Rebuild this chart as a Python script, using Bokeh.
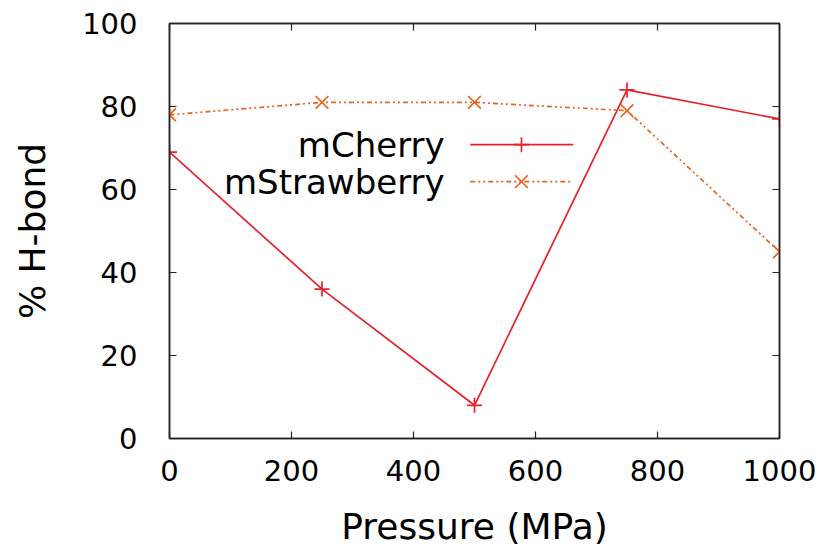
from bokeh.plotting import figure
from bokeh.models import Range1d, LinearAxis, FixedTicker, Label
from bokeh.embed import file_html
from bokeh.resources import INLINE

pressure = [0, 250, 500, 750, 1000]
mcherry = [69, 36, 8, 84, 77]
mstrawberry = [78, 81, 81, 79, 45]
x_ticks = [0, 200, 400, 600, 800, 1000]
y_ticks = [0, 20, 40, 60, 80, 100]

RED = "#e8202a"
ORANGE = "#e8641e"
FONT = "DejaVu Sans"
TICK_FS = "29px"
LABEL_FS = "36px"
LEG_FS = "34px"
DASH = "5 3 2 3 2 3"

p = figure(width=827, height=554, output_backend="svg", toolbar_location=None,
           x_range=Range1d(0, 1000), y_range=Range1d(0, 100),
           min_border_left=169, min_border_right=48, min_border_top=23, min_border_bottom=116)
p.xgrid.visible = False
p.ygrid.visible = False
p.outline_line_color = "#222222"
p.outline_line_width = 1.5

def style_axis(ax, ticks, labels=True):
    ax.ticker = FixedTicker(ticks=ticks)
    ax.major_tick_in = 7
    ax.major_tick_out = 0
    ax.minor_tick_in = 0
    ax.minor_tick_out = 0
    ax.axis_line_color = "#222222"
    ax.axis_line_width = 1.5
    ax.major_tick_line_color = "#222222"
    ax.major_tick_line_width = 1.2
    ax.major_label_text_font = FONT
    ax.major_label_text_font_size = TICK_FS
    ax.major_label_text_color = "black"
    ax.axis_label_text_font = FONT
    ax.axis_label_text_font_size = LABEL_FS
    ax.axis_label_text_font_style = "normal"
    ax.axis_label_text_color = "black"
    if not labels:
        ax.major_label_overrides = {t: "" for t in ticks}

style_axis(p.xaxis[0], x_ticks)
style_axis(p.yaxis[0], y_ticks)
p.xaxis[0].axis_label = "Pressure (MPa)"
p.yaxis[0].axis_label = "% H-bond"
p.xaxis[0].major_label_standoff = 21
p.xaxis[0].axis_label_standoff = 22
p.yaxis[0].major_label_standoff = 32
p.yaxis[0].axis_label_standoff = 26

top = LinearAxis()
style_axis(top, x_ticks, labels=False)
p.add_layout(top, "above")
right = LinearAxis()
style_axis(right, y_ticks, labels=False)
p.add_layout(right, "right")

# data
p.line(pressure, mcherry, line_color=RED, line_width=1.7)
p.scatter(pressure, mcherry, marker="cross", size=15, line_color=RED, line_width=1.7)
p.line(pressure, mstrawberry, line_color=ORANGE, line_width=1.7, line_dash=DASH)
p.scatter(pressure, mstrawberry, marker="x", size=18, line_color=ORANGE, line_width=1.7)

# legend (gnuplot style: label left, sample right), in data units
leg_text_x = 451
leg_line_x = [493, 662]
leg_mark_x = [577]
leg_y = [70.8, 61.9]
names = ["mCherry", "mStrawberry"]
for i, name in enumerate(names):
    p.add_layout(Label(x=leg_text_x, y=leg_y[i], text=name, text_align="right",
                       text_baseline="middle", text_font=FONT, text_font_size=LEG_FS,
                       text_color="black"))
p.line(leg_line_x, [leg_y[0]] * 2, line_color=RED, line_width=1.7)
p.scatter(leg_mark_x, [leg_y[0]], marker="cross", size=15, line_color=RED, line_width=1.7)
p.line(leg_line_x, [leg_y[1]] * 2, line_color=ORANGE, line_width=1.7, line_dash=DASH)
p.scatter(leg_mark_x, [leg_y[1]], marker="x", size=18, line_color=ORANGE, line_width=1.7)

open("out.html", "w").write(file_html(p, INLINE))
